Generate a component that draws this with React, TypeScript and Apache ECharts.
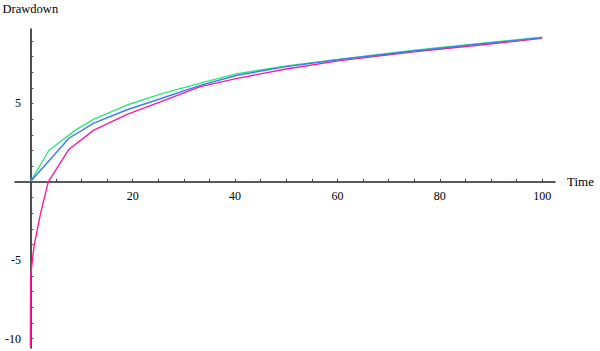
import React, { useEffect, useRef } from "react";
import * as echarts from "echarts";

// Data
const greenX = [0, 3.6, 8.8, 12.4, 18.9, 25.4, 33.2, 40.4, 50, 60.5, 75, 87.9, 100];
const greenY = [0, 2.0, 3.3, 4.0, 4.9, 5.6, 6.3, 6.9, 7.4, 7.82, 8.4, 8.83, 9.22];

const blueX = [0, 7.55, 12.4, 18.9, 25.4, 33.2, 40.4, 50, 60.5, 75, 87.9, 100];
const blueY = [0, 2.78, 3.75, 4.6, 5.3, 6.15, 6.8, 7.35, 7.8, 8.35, 8.8, 9.2];

const pinkX = [0, 0.05, 0.72, 2.0, 3.5, 7.55, 12.4, 18.9, 25.4, 33.2, 40.4, 50, 60.5, 75, 87.9, 100];
const pinkY = [-10.5, -6.0, -4.1, -2.0, 0, 2.08, 3.3, 4.3, 5.1, 6.07, 6.6, 7.2, 7.73, 8.3, 8.73, 9.15];

const xLabels = [20, 40, 60, 80, 100];
const xTicks = [5, 10, 15, 20, 25, 30, 35, 40, 45, 50, 55, 60, 65, 70, 75, 80, 85, 90, 95, 100];
const yLabels = [-10, -5, 5];
const yTicks = [-10, -9, -8, -7, -6, -5, -4, -3, -2, -1, 1, 2, 3, 4, 5, 6, 7, 8, 9];

const X_MIN = -3;
const X_MAX = 102.5;
const Y_MIN = -10.6;
const Y_MAX = 9.75;

const pairs = (xs: number[], ys: number[]) => xs.map((x, i) => [x, ys[i]]);

const FONT = "Liberation Serif";

export default function App() {
  const ref = useRef<HTMLDivElement>(null);
  useEffect(() => {
    if (!ref.current) return;
    const chart = echarts.init(ref.current, undefined, { renderer: "svg" });
    const axisLine = { onZero: true, lineStyle: { color: "#222", width: 1.6 } };
    chart.setOption({
      animation: false,
      backgroundColor: "#fff",
      grid: { left: 15, right: 45, top: 29, bottom: 3, containLabel: false, outerBoundsMode: "none" },
      xAxis: {
        type: "value",
        min: X_MIN,
        max: X_MAX,
        position: "bottom",
        name: "Time",
        nameLocation: "end",
        nameGap: 12,
        nameTextStyle: { fontFamily: FONT, fontSize: 13, color: "#000", verticalAlign: "middle" },
        axisLine,
        axisTick: { show: true, inside: true, length: 3, customValues: xTicks, lineStyle: { color: "#444" } },
        axisLabel: { show: true, customValues: xLabels, margin: -158, fontFamily: FONT, fontSize: 12, color: "#000" },
        splitLine: { show: false },
      },
      yAxis: {
        type: "value",
        min: Y_MIN,
        max: Y_MAX,
        position: "left",
        name: "Drawdown",
        nameLocation: "end",
        nameGap: 14,
        nameTextStyle: { fontFamily: FONT, fontSize: 12.5, color: "#000" },
        axisLine,
        axisTick: { show: true, inside: true, length: 3, customValues: yTicks, lineStyle: { color: "#444" } },
        axisLabel: { show: true, customValues: yLabels, margin: -6, fontFamily: FONT, fontSize: 12, color: "#000" },
        splitLine: { show: false },
      },
      series: [
        {
          type: "line",
          name: "pink",
          data: pairs(pinkX, pinkY),
          showSymbol: false,
          symbol: "none",
          lineStyle: { color: "#ff1a9c", width: 1.4 },
        },
        {
          type: "line",
          name: "green",
          data: pairs(greenX, greenY),
          showSymbol: false,
          symbol: "none",
          lineStyle: { color: "#2ee87a", width: 1.4 },
        },
        {
          type: "line",
          name: "blue",
          data: pairs(blueX, blueY),
          showSymbol: false,
          symbol: "none",
          lineStyle: { color: "#3a7cf5", width: 1.4 },
        },
      ],
    });
    return () => chart.dispose();
  }, []);
  return (
    <div
      ref={ref}
      style={{ position: "fixed", left: 0, top: 0, width: 600, height: 351, background: "#fff" }}
    />
  );
}
